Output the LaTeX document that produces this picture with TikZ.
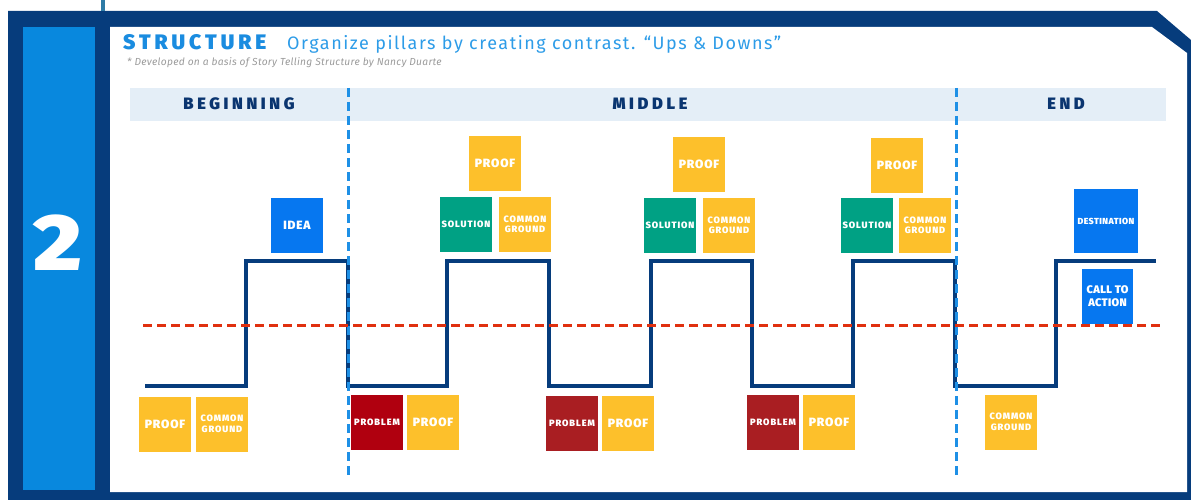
\documentclass[tikz,border=0pt]{standalone}
\usepackage{fontspec}
\setmainfont{Fira Sans}
\newfontfamily\heavy{Fira Sans Black}
\definecolor{navy}{RGB}{6,60,124}
\definecolor{panelblue}{RGB}{8,136,222}
\definecolor{band}{RGB}{228,238,247}
\definecolor{titleblue}{RGB}{26,140,224}
\definecolor{subblue}{RGB}{45,156,232}
\definecolor{subgray}{RGB}{155,155,155}
\definecolor{vdash}{RGB}{30,144,230}
\definecolor{rdash}{RGB}{224,48,15}
\definecolor{ylw}{RGB}{253,192,43}
\definecolor{teal}{RGB}{0,161,132}
\definecolor{bbox}{RGB}{6,119,240}
\definecolor{prob1}{RGB}{176,0,15}
\definecolor{prob2}{RGB}{169,30,34}
\definecolor{pinline}{RGB}{46,123,166}
\definecolor{labnavy}{RGB}{10,53,112}
\tikzset{
  box/.style={rectangle, minimum width=52pt, minimum height=55pt, inner sep=0pt, text=white, align=center},
  bigtxt/.style={font=\heavy\fontsize{12}{12}\selectfont\addfontfeatures{LetterSpace=7}},
  smalltxt/.style={font=\heavy\fontsize{9.2}{10.5}\selectfont\addfontfeatures{LetterSpace=10}},
  yellowbox/.style={box, fill=ylw},
  sectlabel/.style={inner sep=0pt, text=labnavy, font=\heavy\fontsize{16.5}{16.5}\selectfont\addfontfeatures{LetterSpace=22}},
  stepline/.style={draw=navy, line width=4pt, line join=miter},
  vsep/.style={draw=vdash, line width=3pt, dash pattern=on 9pt off 5pt},
  baseline/.style={draw=rdash, line width=3pt, dash pattern=on 9pt off 5pt}
}
\begin{document}
\begin{tikzpicture}[x=1pt, y=-1pt]
\useasboundingbox (0,0) rectangle (1191,500);
% frame
\fill[navy] (8,11) -- (1157,11) -- (1191,40) -- (1191,500) -- (8,500) -- cycle;
\fill[white] (110,27) -- (1152,27) -- (1187,53) -- (1187,492) -- (110,492) -- cycle;
\fill[panelblue] (23,27) rectangle (95,490);
\draw[pinline, line width=4pt] (103,0) -- (103,11);
\node[inner sep=0pt, text=white, font=\heavy\fontsize{80}{80}\selectfont] (num) at (58,243) {\scalebox{1.15}[1]{2}};
% title
\node[anchor=base west, inner sep=0pt, text=titleblue, font=\heavy\fontsize{21}{21}\selectfont\addfontfeatures{LetterSpace=19}] (title) at (123,50) {STRUCTURE};
\node[anchor=base west, inner sep=0pt, text=subblue, font=\fontsize{18}{18}\selectfont\addfontfeatures{LetterSpace=8.5}] (subtitle) at (287,50) {Organize pillars by creating contrast. “Ups \& Downs”};
\node[anchor=base west, inner sep=0pt, text=subgray, font=\itshape\fontsize{10.2}{11}\selectfont\addfontfeatures{LetterSpace=3}] (credit) at (127,66) {* Developed on a basis of Story Telling Structure by Nancy Duarte};
% band
\fill[band] (130,88) rectangle (1166,121);
\node[sectlabel] (beg) at (239,104) {BEGINNING};
\node[sectlabel] (mid) at (650,104) {MIDDLE};
\node[sectlabel] (end) at (1066,104) {END};
% step line
\draw[stepline] (145,386) -- (246,386) -- (246,261) -- (348,261) -- (348,386) -- (447,386) -- (447,261) -- (549,261) -- (549,386) -- (651,386) -- (651,261) -- (752,261) -- (752,386) -- (853,386) -- (853,261) -- (955,261) -- (955,386) -- (1056,386) -- (1056,261) -- (1156,261);
% dashed lines
\draw[vsep] (348,88) -- (348,476);
\draw[vsep] (956,88) -- (956,476);
\draw[baseline] (143,325) -- (1162,325);
% bottom boxes
\node[yellowbox, bigtxt] (proofA) at (165,424) {PROOF};
\node[yellowbox, smalltxt] (commonA) at (222,424) {COMMON\\GROUND};
\node[box, fill=prob1, smalltxt] (problemA) at (377,422.5) {PROBLEM};
\node[yellowbox, bigtxt] (proofB) at (433,422.5) {PROOF};
\node[box, fill=prob2, smalltxt] (problemB) at (572,423.5) {PROBLEM};
\node[yellowbox, bigtxt] (proofC) at (628,423.5) {PROOF};
\node[box, fill=prob2, smalltxt] (problemC) at (773,422.5) {PROBLEM};
\node[yellowbox, bigtxt] (proofD) at (829,422.5) {PROOF};
\node[yellowbox, smalltxt] (commonE) at (1011,422) {COMMON\\GROUND};
% top boxes
\node[box, fill=bbox, bigtxt] (idea) at (297,225) {IDEA};
\node[yellowbox, bigtxt] (proofT1) at (495,163.5) {PROOF};
\node[box, fill=teal, smalltxt] (solution1) at (466,224.5) {SOLUTION};
\node[yellowbox, smalltxt] (common1) at (525,224.5) {COMMON\\GROUND};
\node[yellowbox, bigtxt] (proofT2) at (699,164.5) {PROOF};
\node[box, fill=teal, smalltxt] (solution2) at (670,225.5) {SOLUTION};
\node[yellowbox, smalltxt] (common2) at (729,225.5) {COMMON\\GROUND};
\node[yellowbox, bigtxt] (proofT3) at (897,165.5) {PROOF};
\node[box, fill=teal, smalltxt] (solution3) at (867,225.5) {SOLUTION};
\node[yellowbox, smalltxt] (common3) at (925,225.5) {COMMON\\GROUND};
\node[box, fill=bbox, minimum width=64pt, minimum height=64pt, font=\heavy\fontsize{8.8}{10}\selectfont\addfontfeatures{LetterSpace=5}] (destination) at (1106,221) {DESTINATION};
\node[box, fill=bbox, minimum width=51pt, minimum height=55pt, font=\heavy\fontsize{11}{13}\selectfont\addfontfeatures{LetterSpace=3}] (cta) at (1107.5,296.5) {CALL TO\\ACTION};
\end{tikzpicture}
\end{document}
